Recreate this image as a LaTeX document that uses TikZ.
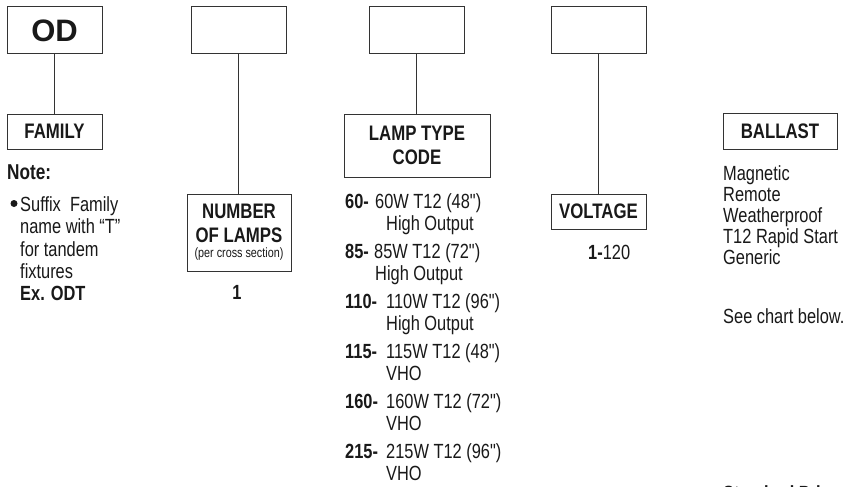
\documentclass[tikz,border=0pt]{standalone}
\usepackage{fontspec}
\setmainfont[FakeStretch=0.8, Ligatures=TeXOff]{Liberation Sans}
\newfontfamily\widefont{Liberation Sans}
\begin{document}
\begin{tikzpicture}[x=1pt,y=-1pt,
  box/.style={draw=black!80, line width=1pt, inner sep=0pt, align=center,
    text=black!90, font=\bfseries\fontsize{21}{24}\selectfont},
  link/.style={draw=black!80, line width=1pt},
  txt/.style={anchor=base west, inner sep=0pt, text=black!90,
    font=\fontsize{20.5}{22}\selectfont},
  btxt/.style={txt, font=\bfseries\fontsize{20.5}{22}\selectfont},
  dot/.style={circle, fill=black!90, inner sep=0pt, minimum size=7}]
\useasboundingbox (0,0) rectangle (846,487);
\clip (0,0) rectangle (846,487);
\fill[white] (0,0) rectangle (846,487);

% column 1: family
\node[box, minimum width=95, minimum height=47,
  font=\widefont\bfseries\fontsize{31}{31}\selectfont] (od) at (54.5,30.5) {OD};
\node[box, minimum width=95, minimum height=35] (fam) at (54.5,131.5) {FAMILY};
\draw[link] (od.south) -- (fam.north);
\node[btxt, font=\bfseries\fontsize{21.5}{22}\selectfont] (note) at (7,179) {Note:};
\node[dot] (bul) at (14,203.5) {};
\node[txt] (n1) at (20,211) {Suffix\ \ Family};
\node[txt] (n2) at (20,233) {name with “T”};
\node[txt] (n3) at (20,256) {for tandem};
\node[txt] (n4) at (20,278) {fixtures};
\node[btxt] (n5) at (20,300) {Ex. ODT};

% column 2: number of lamps
\node[box, minimum width=95, minimum height=47] (nl) at (238.5,30.5) {};
\node[box, minimum width=104, minimum height=77] (num) at (239,232.5)
  {NUMBER\\OF LAMPS\\[-9pt]{\mdseries\fontsize{13.5}{14}\selectfont (per cross section)}};
\draw[link] (nl.south) -- (nl.south |- num.north);
\node[btxt, anchor=base] (one) at (237,299) {1};

% column 3: lamp type code
\node[box, minimum width=95, minimum height=47] (lt) at (416.5,30.5) {};
\node[box, minimum width=146, minimum height=63] (ltc) at (417,145.5) {LAMP TYPE\\CODE};
\draw[link] (lt.south) -- (lt.south |- ltc.north);
\node[btxt] (c1) at (345,208) {60-};
\node[txt] (d1) at (375,208) {60W T12 (48")};
\node[txt] (e1) at (386,230) {High Output};
\node[btxt] (c2) at (345,258) {85-};
\node[txt] (d2) at (374,258) {85W T12 (72")};
\node[txt] (e2) at (375,280) {High Output};
\node[btxt] (c3) at (345,308) {110-};
\node[txt] (d3) at (386,308) {110W T12 (96")};
\node[txt] (e3) at (386,330) {High Output};
\node[btxt] (c4) at (345,358) {115-};
\node[txt] (d4) at (386,358) {115W T12 (48")};
\node[txt] (e4) at (386,380) {VHO};
\node[btxt] (c5) at (345,408) {160-};
\node[txt] (d5) at (386,408) {160W T12 (72")};
\node[txt] (e5) at (386,430) {VHO};
\node[btxt] (c6) at (345,458) {215-};
\node[txt] (d6) at (386,458) {215W T12 (96")};
\node[txt] (e6) at (386,480) {VHO};

% column 4: voltage
\node[box, minimum width=95, minimum height=47] (vt) at (598.5,30.5) {};
\node[box, minimum width=95, minimum height=35] (volt) at (598.5,211.5) {VOLTAGE};
\draw[link] (vt.south) -- (vt.south |- volt.north);
\node[txt] (v1) at (588,259) {\textbf{1-}120};

% column 5: ballast
\node[box, minimum width=114, minimum height=36] (bal) at (780,131) {BALLAST};
\node[txt] (b1) at (723,180) {Magnetic};
\node[txt] (b2) at (723,201.2) {Remote};
\node[txt] (b3) at (723,222.4) {Weatherproof};
\node[txt] (b4) at (723,243.6) {T12 Rapid Start};
\node[txt] (b5) at (723,264.8) {Generic};
\node[txt] (b6) at (723,323) {See chart below.};
\node[btxt] (b7) at (723,500) {Standard Pri};
\end{tikzpicture}
\end{document}
